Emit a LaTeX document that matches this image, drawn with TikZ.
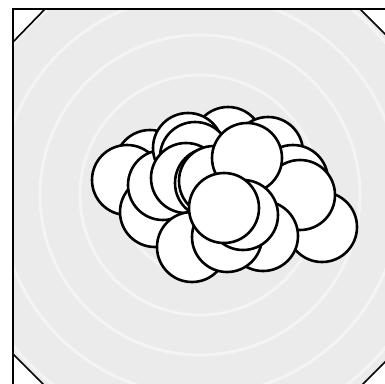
\documentclass[tikz,border=0pt]{standalone}
\usepackage{tikz}
\usepackage{xcolor}

\begin{document}
\begin{tikzpicture}[x=1pt,y=-1pt]
                \def\ancho{385}
                \def\alto{383}
                \def\radio{35}
                \colorlet{fondo}{black!8}
                \useasboundingbox (0,0) rectangle (\ancho,\alto);
                \clip (0,0) rectangle (\ancho,\alto);
                % octagonal plate
                \fill[white] (0,0) rectangle (\ancho,\alto);
                \fill[fondo] (13,42) -- (45,9) -- (360,9) -- (393,42) -- (393,354) -- (361,386) -- (45,386) -- (13,354) -- cycle;
                % faint rings
                \begin{scope}
                  \clip (13,42) -- (45,9) -- (360,9) -- (393,42) -- (393,354) -- (361,386) -- (45,386) -- (13,354) -- cycle;
                  \foreach \r in {40,80,...,280} {
                    \draw[white, opacity=0.45, line width=3pt] (200,195) circle (\r);
                  }
                \end{scope}
                \draw[line width=1.6pt] (13,\alto+5) -- (13,9) -- (\ancho+5,9);
                \draw[line width=1.6pt] (13,42) -- (45,9);
                \draw[line width=1.6pt] (360,9) -- (393,42);
                \draw[line width=1.6pt] (13,354) -- (45,386);
                \draw[line width=1.6pt] (393,354) -- (361,386);
                % the cluster, back to front
                \begin{scope}[line width=2.6pt]
                  \foreach \cx/\cy in {150/165, 127/180, 228/142, 268/152, 293/180,
                                       155/212, 163/185, 188/148, 195/157, 186/178,
                                       210/183, 214/181, 322/227, 300/195, 192/247,
                                       263/236, 227/237, 247/158, 243/215, 224/208} {
                    \draw[fill=white] (\cx,\cy) circle (\radio);
                  }
                \end{scope}
              \end{tikzpicture}
\end{document}
